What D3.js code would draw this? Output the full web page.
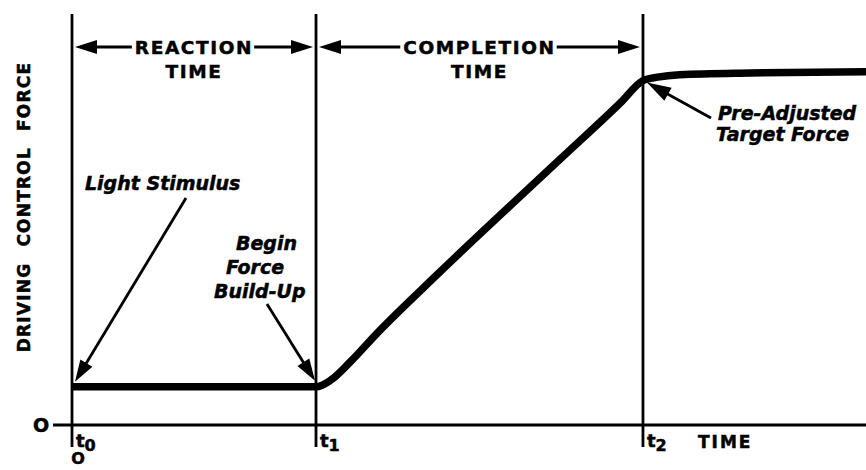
<!DOCTYPE html>
<html>
<head>
<meta charset="utf-8">
<script src="https://cdn.jsdelivr.net/npm/d3@7"></script>
<style>
  html, body { margin: 0; padding: 0; background: #fff; }
  svg { display: block; }
  .hd { font-family: "DejaVu Sans", sans-serif; font-weight: bold; stroke: #000; stroke-width: 0.5px; }
  .note { font-family: "DejaVu Sans", sans-serif; font-weight: bold; font-style: oblique; stroke: #000; stroke-width: 0.5px; }
</style>
</head>
<body>
<svg id="chart" width="866" height="470"></svg>
<script>
/* Driving control force vs. time: reaction phase, then force build-up */

// phase boundaries t0, t1, t2 (time units)
var phaseTimes = [0, 1.0, 2.34];
var phaseSubs = ['0', '1', '2'];
var phaseNames = [['REACTION', 'TIME'], ['COMPLETION', 'TIME']];

// force trace (force as a fraction of target)
var curveTime  = [0, 1.0, 1.06, 1.14, 1.25, 1.5, 2.0, 2.25, 2.34, 2.40, 2.49, 2.78, 3.254];
var curveForce = [0.109, 0.109, 0.128, 0.18, 0.262, 0.432, 0.759, 0.922, 0.984, 0.994, 1.001, 1.006, 1.009];

var svg = d3.select('#chart');
var W = 866;

var x = d3.scaleLinear().domain([0, 3.254]).range([72, 866]);
var y = d3.scaleLinear().domain([0, 1]).range([425, 75]);

/* ---- arrow helper: line with a filled triangular head at (x2,y2) ---- */
function arrow(g, x1, y1, x2, y2, len, half) {
  var dx = x2 - x1, dy = y2 - y1, d = Math.sqrt(dx * dx + dy * dy);
  var ux = dx / d, uy = dy / d;
  var bx = x2 - ux * len, by = y2 - uy * len;
  g.append('line')
    .attr('x1', x1).attr('y1', y1).attr('x2', bx + ux * 2).attr('y2', by + uy * 2)
    .attr('stroke', '#000').attr('stroke-width', 2.8);
  g.append('path')
    .attr('d', 'M' + x2 + ',' + y2 +
      'L' + (bx - uy * half) + ',' + (by + ux * half) +
      'L' + (bx + uy * half) + ',' + (by - ux * half) + 'Z')
    .attr('fill', '#000');
}

/* ---- axes ---- */
svg.append('line')
  .attr('x1', 53).attr('x2', W).attr('y1', y(0)).attr('y2', y(0))
  .attr('stroke', '#000').attr('stroke-width', 2.8);

svg.append('text').attr('class', 'hd')
  .attr('x', 41).attr('y', y(0) + 7).attr('text-anchor', 'middle')
  .style('font-size', '19px').text('O');

phaseTimes.forEach(function (t, i) {
  svg.append('line')
    .attr('x1', x(t)).attr('x2', x(t)).attr('y1', 14).attr('y2', y(0) + 22)
    .attr('stroke', '#000').attr('stroke-width', 2.8);
  var lab = svg.append('text').attr('class', 'hd')
    .attr('x', x(t) + 4).attr('y', y(0) + 22)
    .style('font-size', '18px');
  lab.append('tspan').text('t');
  lab.append('tspan').attr('dy', 4).style('font-size', '16px').text(phaseSubs[i]);
});

// time origin under t0
svg.append('text').attr('class', 'hd')
  .attr('x', x(0) + 6).attr('y', 464).attr('text-anchor', 'middle')
  .style('font-size', '16px').text('O');

svg.append('text').attr('class', 'hd')
  .attr('x', 698).attr('y', y(0) + 23)
  .style('font-size', '17px').style('letter-spacing', '2px').text('TIME');

svg.append('text').attr('class', 'hd')
  .attr('transform', 'translate(30,207) rotate(-90)')
  .attr('text-anchor', 'middle')
  .style('font-size', '17px').style('letter-spacing', '1.2px').style('word-spacing', '9px')
  .text('DRIVING CONTROL FORCE');

/* ---- phase headings with double arrows ---- */
var ay = 47;
phaseNames.forEach(function (nm, i) {
  var xa = x(phaseTimes[i]), xb = x(phaseTimes[i + 1]), xm = (xa + xb) / 2;
  var t1 = svg.append('text').attr('class', 'hd')
    .attr('x', xm).attr('y', ay + 7).attr('text-anchor', 'middle')
    .style('font-size', '18.5px').style('letter-spacing', '1.6px').text(nm[0]);
  svg.append('text').attr('class', 'hd')
    .attr('x', xm).attr('y', ay + 31).attr('text-anchor', 'middle')
    .style('font-size', '18.5px').style('letter-spacing', '1.6px').text(nm[1]);
  var bb = t1.node().getBBox();
  arrow(svg, bb.x - 3, ay, xa + 3, ay, 22, 7);
  arrow(svg, bb.x + bb.width + 1, ay, xb - 3, ay, 22, 7);
});

/* ---- force trace ---- */
var pts = curveTime.map(function (t, i) { return [t, curveForce[i]]; });
svg.append('path')
  .datum(pts)
  .attr('d', d3.line().x(function (d) { return x(d[0]); }).y(function (d) { return y(d[1]); })
    .curve(d3.curveMonotoneX))
  .attr('fill', 'none').attr('stroke', '#000').attr('stroke-width', 7.5)
  .attr('stroke-linecap', 'butt');

/* ---- annotations ---- */
var f0 = curveForce[0];
svg.append('text').attr('class', 'note')
  .attr('x', 85).attr('y', 190).style('font-size', '19px').text('Light Stimulus');
arrow(svg, 186, 198, x(0) + 3, y(f0) - 5, 22, 7);

var begin = ['Begin', 'Force', 'Build-Up'], bx = [236, 226, 214];
begin.forEach(function (s, i) {
  svg.append('text').attr('class', 'note')
    .attr('x', bx[i]).attr('y', 250 + i * 24).style('font-size', '19px').text(s);
});
arrow(svg, 267, 304, x(phaseTimes[1]) - 1, y(f0) - 6, 22, 7);

svg.append('text').attr('class', 'note')
  .attr('x', 718).attr('y', 120).style('font-size', '19px').text('Pre-Adjusted');
svg.append('text').attr('class', 'note')
  .attr('x', 716).attr('y', 141).style('font-size', '19px').text('Target Force');
arrow(svg, 711, 118, x(phaseTimes[2]) + 4, y(0.984) + 2, 24, 7.5);
</script>
</body>
</html>
